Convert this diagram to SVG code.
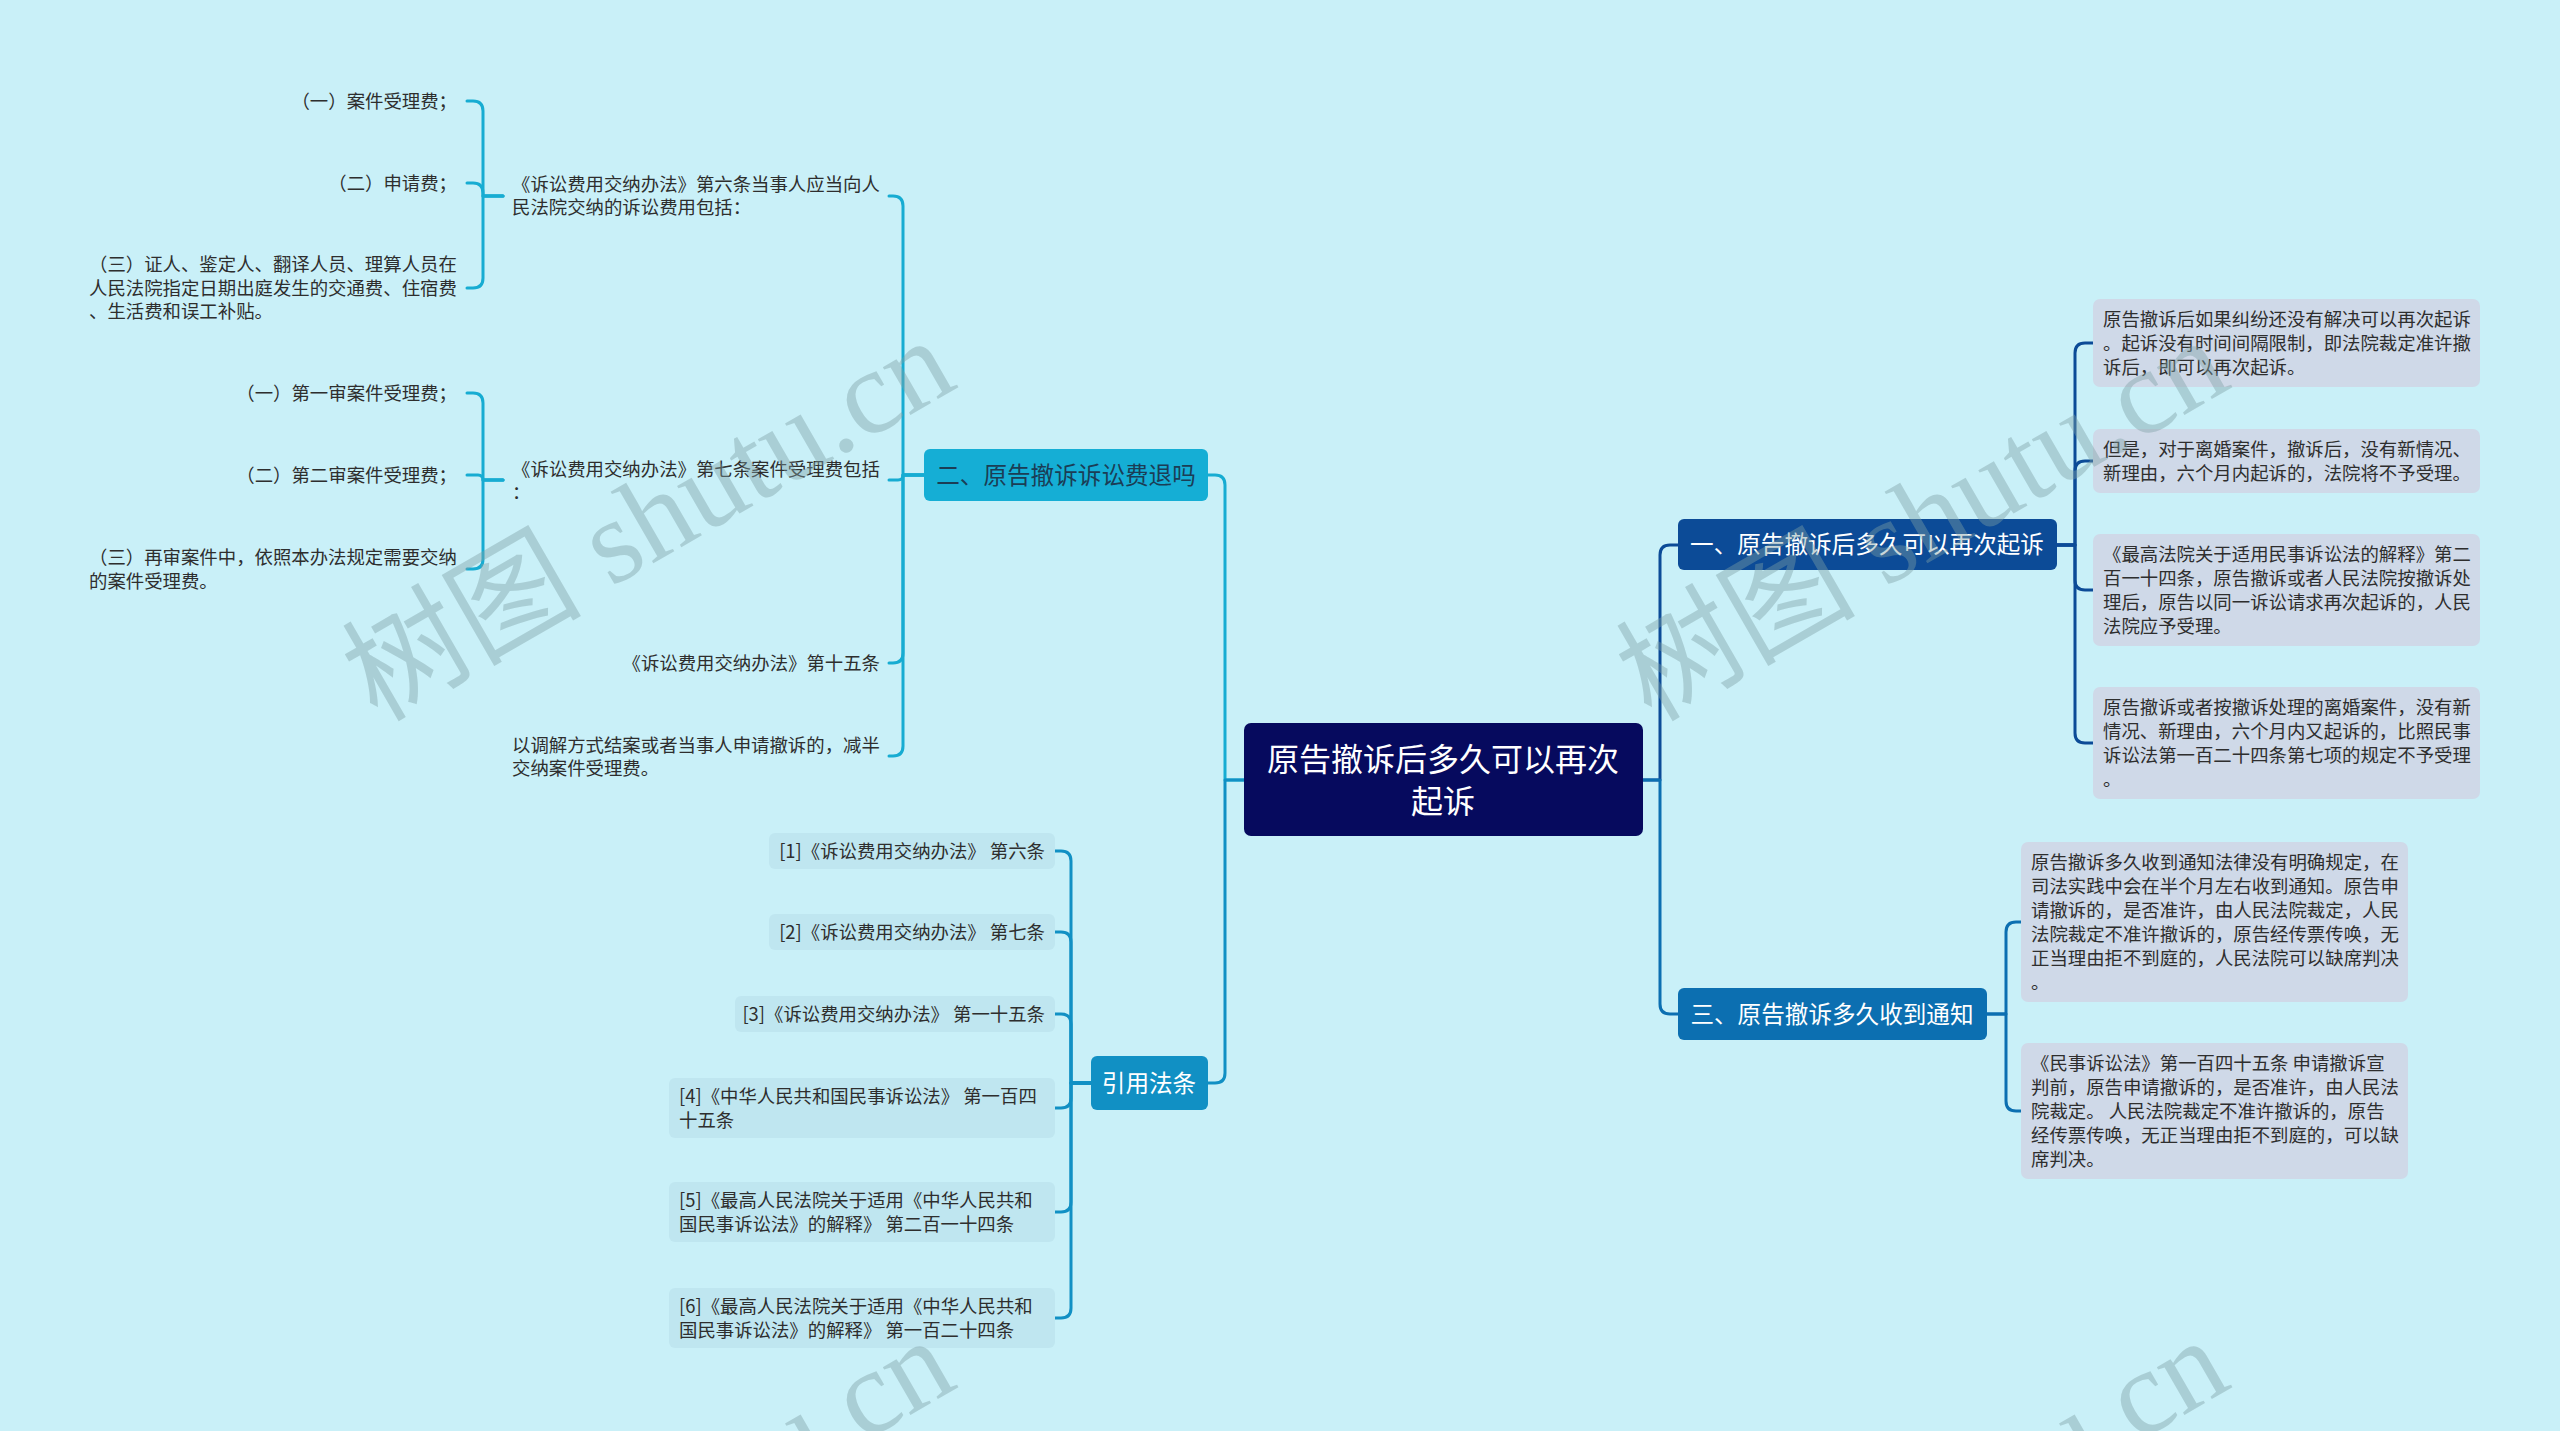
<svg xmlns="http://www.w3.org/2000/svg" width="2560" height="1431" viewBox="0 0 2560 1431">
<style>
text{font-family:"Noto Sans CJK SC","Noto Sans",sans-serif}
.lf{font-size:18.4px;fill:#2e2e2e}
.br{font-size:23.6px;fill:#ffffff;text-anchor:middle}
.rt{font-size:32px;fill:#ffffff;text-anchor:middle}
.c{fill:none;stroke-width:3;stroke-linecap:round;stroke-linejoin:round}
.cy{stroke:#17acd2}
.bl{stroke:#1190c4}
.nv{stroke:#0c4b97}
.md{stroke:#0c6fb1}
.rb{fill:#cfd9e8}
.qb{fill:#bfe6f0}
.wm{font-family:"Liberation Serif","Noto Sans CJK SC",serif;font-size:120px;fill:#7f9fa4;fill-opacity:0.42;text-anchor:middle}
</style>
<rect width="2560" height="1431" fill="#c9f0f8"/>

<g id="connectors">
  <!-- root left -->
  <path class="c cy" d="M1244 780 H1225 V485 Q1225 475 1215 475 H1208"/>
  <path class="c bl" d="M1244 780 H1225 V1073 Q1225 1083 1215 1083 H1208"/>
  <!-- root right -->
  <path class="c nv" d="M1643 780 H1660 V555 Q1660 545 1670 545 H1678"/>
  <path class="c md" d="M1643 780 H1660 V1004 Q1660 1014 1670 1014 H1678"/>
  <!-- branch 二 -->
  <path class="c cy" d="M924 475 H903 V206 Q903 196 893 196 H889"/>
  <path class="c cy" d="M924 475 H903 Q903 480 898 480 H889"/>
  <path class="c cy" d="M924 475 H903 V653 Q903 663 893 663 H889"/>
  <path class="c cy" d="M924 475 H903 V746 Q903 756 893 756 H889"/>
  <!-- 第六条 -->
  <path class="c cy" d="M503 196 H483 V111 Q483 101 473 101 H467"/>
  <path class="c cy" d="M503 196 H483 V193 Q483 183 473 183 H467"/>
  <path class="c cy" d="M503 196 H483 V278 Q483 288 473 288 H467"/>
  <!-- 第七条 -->
  <path class="c cy" d="M503 480 H483 V403 Q483 393 473 393 H467"/>
  <path class="c cy" d="M503 480 H483 Q483 475 478 475 H467"/>
  <path class="c cy" d="M503 480 H483 V559 Q483 569 473 569 H467"/>
  <!-- 引用法条 -->
  <path class="c bl" d="M1091 1083 H1071 V861 Q1071 851 1061 851 H1055"/>
  <path class="c bl" d="M1091 1083 H1071 V942 Q1071 932 1061 932 H1055"/>
  <path class="c bl" d="M1091 1083 H1071 V1024 Q1071 1014 1061 1014 H1055"/>
  <path class="c bl" d="M1091 1083 H1071 V1098 Q1071 1108 1061 1108 H1055"/>
  <path class="c bl" d="M1091 1083 H1071 V1202 Q1071 1212 1061 1212 H1055"/>
  <path class="c bl" d="M1091 1083 H1071 V1308 Q1071 1318 1061 1318 H1055"/>
  <!-- 一 -->
  <path class="c nv" d="M2057 545 H2075 V353 Q2075 343 2085 343 H2093"/>
  <path class="c nv" d="M2057 545 H2075 V471 Q2075 461 2085 461 H2093"/>
  <path class="c nv" d="M2057 545 H2075 V580 Q2075 590 2085 590 H2093"/>
  <path class="c nv" d="M2057 545 H2075 V733 Q2075 743 2085 743 H2093"/>
  <!-- 三 -->
  <path class="c md" d="M1987 1014 H2006 V932 Q2006 922 2016 922 H2021"/>
  <path class="c md" d="M1987 1014 H2006 V1101 Q2006 1111 2016 1111 H2021"/>
</g>

<g id="root">
  <rect x="1244" y="723" width="399" height="113" rx="7" fill="#060a5e"/>
  <text class="rt" x="1443" y="771">原告撤诉后多久可以再次</text>
  <text class="rt" x="1443" y="813">起诉</text>
</g>

<g id="b1">
  <rect x="1678" y="519" width="379" height="51" rx="6" fill="#0c4b97"/>
  <text class="br" x="1867" y="553">一、原告撤诉后多久可以再次起诉</text>
</g>
<g id="b3">
  <rect x="1678" y="988" width="309" height="52" rx="6" fill="#0c6fb1"/>
  <text class="br" x="1832" y="1023">三、原告撤诉多久收到通知</text>
</g>
<g id="b2">
  <rect x="924" y="449" width="284" height="52" rx="6" fill="#15aed5"/>
  <text class="br" x="1066" y="484" style="fill:#1b3d55">二、原告撤诉诉讼费退吗</text>
</g>
<g id="b4">
  <rect x="1091" y="1056" width="117" height="54" rx="6" fill="#1190c4"/>
  <text class="br" x="1149" y="1092">引用法条</text>
</g>

<!-- 二 children -->
<g id="n21">
  <text class="lf" x="512" y="191">《诉讼费用交纳办法》第六条当事人应当向人</text>
  <text class="lf" x="512" y="214">民法院交纳的诉讼费用包括：</text>
</g>
<g id="n22">
  <text class="lf" x="512" y="476">《诉讼费用交纳办法》第七条案件受理费包括</text>
  <text class="lf" x="512" y="499">：</text>
</g>
<g id="n23">
  <text class="lf" x="880" y="670" text-anchor="end">《诉讼费用交纳办法》第十五条</text>
</g>
<g id="n24">
  <text class="lf" x="512" y="752">以调解方式结案或者当事人申请撤诉的，减半</text>
  <text class="lf" x="512" y="775">交纳案件受理费。</text>
</g>
<!-- 第六条 children -->
<g id="n211"><text class="lf" x="457" y="108" text-anchor="end">（一）案件受理费；</text></g>
<g id="n212"><text class="lf" x="457" y="190" text-anchor="end">（二）申请费；</text></g>
<g id="n213">
  <text class="lf" x="89" y="271">（三）证人、鉴定人、翻译人员、理算人员在</text>
  <text class="lf" x="89" y="295">人民法院指定日期出庭发生的交通费、住宿费</text>
  <text class="lf" x="89" y="318">、生活费和误工补贴。</text>
</g>
<!-- 第七条 children -->
<g id="n221"><text class="lf" x="457" y="400" text-anchor="end">（一）第一审案件受理费；</text></g>
<g id="n222"><text class="lf" x="457" y="482" text-anchor="end">（二）第二审案件受理费；</text></g>
<g id="n223">
  <text class="lf" x="89" y="564">（三）再审案件中，依照本办法规定需要交纳</text>
  <text class="lf" x="89" y="588">的案件受理费。</text>
</g>

<!-- 引用法条 children -->
<g id="r1"><rect class="qb" x="769" y="833" width="286" height="36" rx="6"/><text class="lf" x="1045" y="858" text-anchor="end">[1]《诉讼费用交纳办法》 第六条</text></g>
<g id="r2"><rect class="qb" x="769" y="914" width="286" height="36" rx="6"/><text class="lf" x="1045" y="939" text-anchor="end">[2]《诉讼费用交纳办法》 第七条</text></g>
<g id="r3"><rect class="qb" x="735" y="996" width="320" height="36" rx="6"/><text class="lf" x="1045" y="1021" text-anchor="end">[3]《诉讼费用交纳办法》 第一十五条</text></g>
<g id="r4"><rect class="qb" x="669" y="1078" width="386" height="60" rx="6"/>
  <text class="lf" x="679" y="1103">[4]《中华人民共和国民事诉讼法》 第一百四</text>
  <text class="lf" x="679" y="1127">十五条</text></g>
<g id="r5"><rect class="qb" x="669" y="1182" width="386" height="60" rx="6"/>
  <text class="lf" x="679" y="1207">[5]《最高人民法院关于适用《中华人民共和</text>
  <text class="lf" x="679" y="1231">国民事诉讼法》的解释》 第二百一十四条</text></g>
<g id="r6"><rect class="qb" x="669" y="1288" width="386" height="60" rx="6"/>
  <text class="lf" x="679" y="1313">[6]《最高人民法院关于适用《中华人民共和</text>
  <text class="lf" x="679" y="1337">国民事诉讼法》的解释》 第一百二十四条</text></g>

<!-- 一 children -->
<g id="a1"><rect class="rb" x="2093" y="299" width="387" height="88" rx="7"/>
  <text class="lf" x="2103" y="326">原告撤诉后如果纠纷还没有解决可以再次起诉</text>
  <text class="lf" x="2103" y="350">。起诉没有时间间隔限制，即法院裁定准许撤</text>
  <text class="lf" x="2103" y="374">诉后，即可以再次起诉。</text></g>
<g id="a2"><rect class="rb" x="2093" y="429" width="387" height="64" rx="7"/>
  <text class="lf" x="2103" y="456">但是，对于离婚案件，撤诉后，没有新情况、</text>
  <text class="lf" x="2103" y="480">新理由，六个月内起诉的，法院将不予受理。</text></g>
<g id="a3"><rect class="rb" x="2093" y="534" width="387" height="112" rx="7"/>
  <text class="lf" x="2103" y="561">《最高法院关于适用民事诉讼法的解释》第二</text>
  <text class="lf" x="2103" y="585">百一十四条，原告撤诉或者人民法院按撤诉处</text>
  <text class="lf" x="2103" y="609">理后，原告以同一诉讼请求再次起诉的，人民</text>
  <text class="lf" x="2103" y="633">法院应予受理。</text></g>
<g id="a4"><rect class="rb" x="2093" y="687" width="387" height="112" rx="7"/>
  <text class="lf" x="2103" y="714">原告撤诉或者按撤诉处理的离婚案件，没有新</text>
  <text class="lf" x="2103" y="738">情况、新理由，六个月内又起诉的，比照民事</text>
  <text class="lf" x="2103" y="762">诉讼法第一百二十四条第七项的规定不予受理</text>
  <text class="lf" x="2103" y="786">。</text></g>

<!-- 三 children -->
<g id="c1"><rect class="rb" x="2021" y="842" width="387" height="160" rx="7"/>
  <text class="lf" x="2031" y="869">原告撤诉多久收到通知法律没有明确规定，在</text>
  <text class="lf" x="2031" y="893">司法实践中会在半个月左右收到通知。原告申</text>
  <text class="lf" x="2031" y="917">请撤诉的，是否准许，由人民法院裁定，人民</text>
  <text class="lf" x="2031" y="941">法院裁定不准许撤诉的，原告经传票传唤，无</text>
  <text class="lf" x="2031" y="965">正当理由拒不到庭的，人民法院可以缺席判决</text>
  <text class="lf" x="2031" y="989">。</text></g>
<g id="c2"><rect class="rb" x="2021" y="1043" width="387" height="136" rx="7"/>
  <text class="lf" x="2031" y="1070">《民事诉讼法》第一百四十五条 申请撤诉宣</text>
  <text class="lf" x="2031" y="1094">判前，原告申请撤诉的，是否准许，由人民法</text>
  <text class="lf" x="2031" y="1118">院裁定。 人民法院裁定不准许撤诉的，原告</text>
  <text class="lf" x="2031" y="1142">经传票传唤，无正当理由拒不到庭的，可以缺</text>
  <text class="lf" x="2031" y="1166">席判决。</text></g>

<g id="watermark">
  <text class="wm" x="648" y="560" transform="rotate(-30 648 519)">树图 shutu.cn</text>
  <text class="wm" x="1922" y="560" transform="rotate(-30 1922 519)">树图 shutu.cn</text>
  <text class="wm" x="648" y="1560" transform="rotate(-30 648 1519)">树图 shutu.cn</text>
  <text class="wm" x="1922" y="1560" transform="rotate(-30 1922 1519)">树图 shutu.cn</text>
</g>
</svg>
